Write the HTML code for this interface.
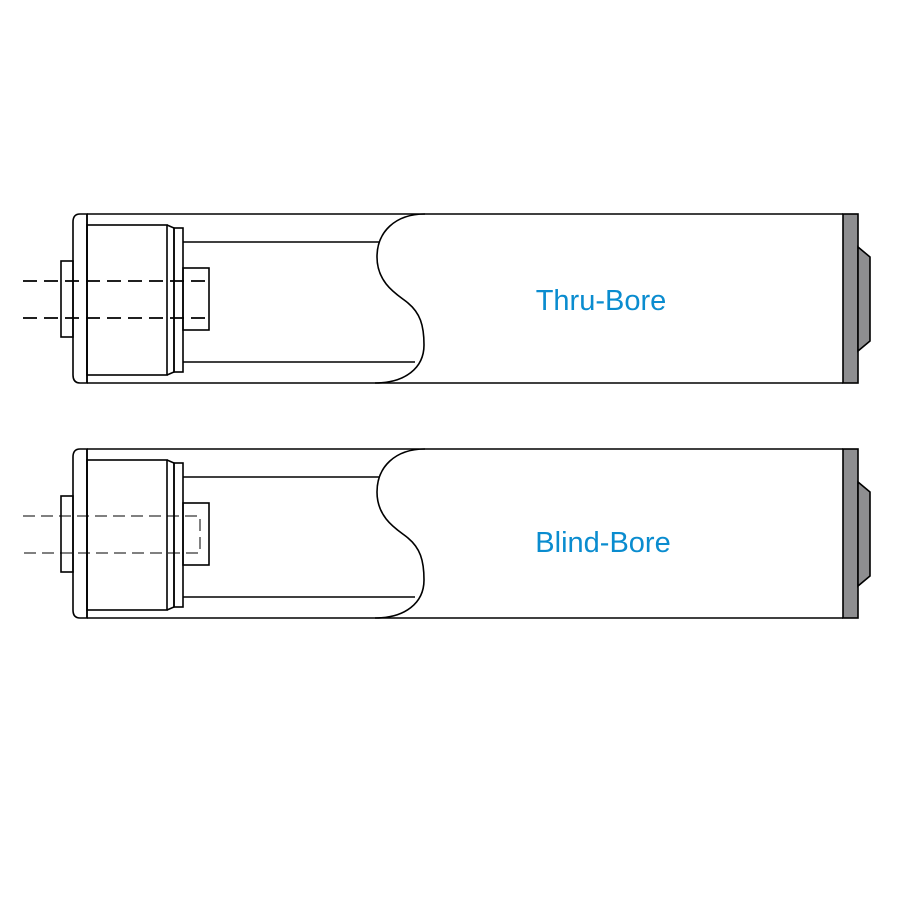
<!DOCTYPE html>
<html><head><style>html,body{margin:0;padding:0;background:#fff}</style></head><body>
<svg width="901" height="901" xmlns="http://www.w3.org/2000/svg">
<defs>
<g id="r" fill="none" stroke="#000" stroke-width="1.6">
  <path d="M87,214 H843 M87,383 H843" />
  <path d="M87,214 H80 Q73,214 73,222 V375 Q73,383 80,383 H87 Z" fill="#fff"/>
  <rect x="61" y="261" width="12" height="76"/>
  <line x1="87" y1="214" x2="87" y2="383"/>
  <rect x="87" y="225" width="80" height="150"/>
  <path d="M167,225 L174,228 V372 L167,375"/>
  <rect x="174" y="228" width="9" height="144"/>
  <path d="M183,242 H380 M183,362 H415"/>
  <path d="M425,214 C395,214 377,232 377,257 C377,285 400,296 408,303 C420,313 424,325 424,345 C424,368 405,383 375,383"/>
  <rect x="843" y="214" width="15" height="169" fill="#8e8e90"/>
  <path d="M858,247 L870,257 V341 L858,351 Z" fill="#8e8e90"/>
</g>
</defs>
<use href="#r"/>
<rect x="183" y="268" width="26" height="62" fill="none" stroke="#000" stroke-width="1.6"/>
<g stroke="#000" stroke-width="1.8" stroke-dasharray="14,7">
<line x1="23" y1="281" x2="207" y2="281"/><line x1="23" y1="318" x2="207" y2="318"/>
</g>
<use href="#r" y="235"/>
<rect x="183" y="503" width="26" height="62" fill="none" stroke="#000" stroke-width="1.6"/>
<path d="M23,516 H200 V553 H23" fill="none" stroke="#000" stroke-width="1" stroke-dasharray="12,6"/>
<g font-family="Liberation Sans, sans-serif" font-size="29" fill="#0a8ccf" text-anchor="middle">
<text x="601" y="310">Thru-Bore</text>
<text x="603" y="552">Blind-Bore</text>
</g>
</svg>
</body></html>
